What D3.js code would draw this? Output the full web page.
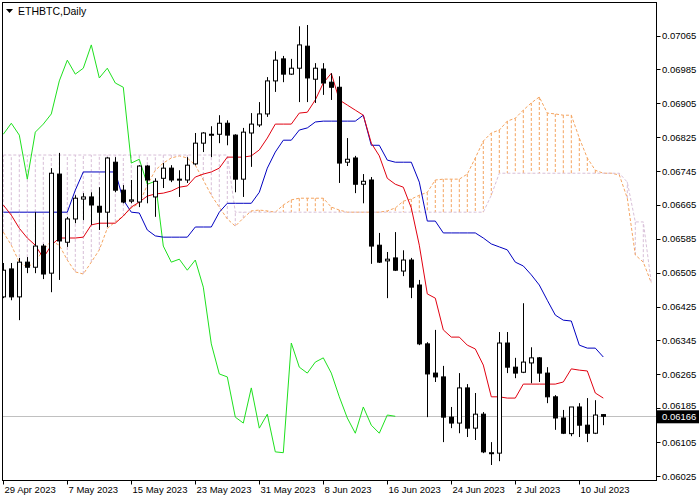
<!DOCTYPE html>
<html>
<head>
<meta charset="utf-8">
<script src="https://cdn.jsdelivr.net/npm/d3@7"></script>
<style>
  body { margin: 0; background: #fff; }
  text { font-family: "Liberation Sans", Arial, sans-serif; font-size: 9.5px; fill: #000; }
</style>
</head>
<body>
<svg id="chart" width="700" height="500"></svg>
<script>
// daily ETHBTC candles, 29 Apr 2023 .. 13 Jul 2023
const opens  = [0.06448,0.06514,0.06448,0.06530,0.06518,0.06568,0.06504,0.06738,0.06577,0.06632,0.06679,0.06684,0.06662,0.06648,0.06766,0.06700,0.06674,0.06672,0.06757,0.06684,0.06728,0.06752,0.06724,0.06724,0.06762,0.06811,0.06830,0.06832,0.06858,0.06830,0.06726,0.06835,0.06854,0.06880,0.06958,0.07010,0.06974,0.06988,0.07040,0.06962,0.06986,0.06955,0.06943,0.06766,0.06776,0.06714,0.06724,0.06570,0.06533,0.06540,0.06509,0.06535,0.06476,0.06337,0.06268,0.06259,0.06164,0.06150,0.06233,0.06138,0.06171,0.06079,0.06079,0.06339,0.06282,0.06270,0.06292,0.06304,0.06268,0.06212,0.06162,0.06125,0.06188,0.06145,0.06126,0.06170];
const highs  = [0.06528,0.06528,0.06540,0.06542,0.06648,0.06573,0.06752,0.06788,0.06637,0.06688,0.06693,0.06695,0.06707,0.06778,0.06778,0.06712,0.06724,0.06759,0.06759,0.06728,0.06764,0.06759,0.06747,0.06778,0.06835,0.06837,0.06851,0.06877,0.06865,0.06832,0.06847,0.06882,0.06908,0.06967,0.07028,0.07017,0.07010,0.07087,0.07090,0.07000,0.07000,0.06976,0.06969,0.06823,0.06781,0.06738,0.06731,0.06599,0.06554,0.06601,0.06558,0.06540,0.06488,0.06341,0.06370,0.06285,0.06188,0.06268,0.06242,0.06221,0.06176,0.06105,0.06365,0.06365,0.06304,0.06433,0.06329,0.06306,0.06282,0.06216,0.06181,0.06188,0.06197,0.06209,0.06204,0.06171];
const lows   = [0.06445,0.06440,0.06393,0.06504,0.06504,0.06490,0.06459,0.06488,0.06566,0.06622,0.06629,0.06618,0.06606,0.06613,0.06695,0.06669,0.06669,0.06660,0.06669,0.06637,0.06705,0.06719,0.06684,0.06717,0.06759,0.06790,0.06778,0.06811,0.06806,0.06695,0.06684,0.06755,0.06849,0.06873,0.06932,0.06955,0.06972,0.06908,0.06908,0.06906,0.06925,0.06913,0.06717,0.06757,0.06693,0.06669,0.06526,0.06528,0.06445,0.06509,0.06497,0.06445,0.06334,0.06164,0.06247,0.06105,0.06138,0.06126,0.06117,0.06110,0.06079,0.06051,0.06060,0.06268,0.06256,0.06268,0.06244,0.06247,0.06197,0.06134,0.06124,0.06119,0.06117,0.06105,0.06124,0.06145];
const closes = [0.06511,0.06448,0.06530,0.06518,0.06568,0.06502,0.06740,0.06580,0.06632,0.06681,0.06684,0.06665,0.06648,0.06776,0.06700,0.06672,0.06677,0.06757,0.06724,0.06721,0.06752,0.06724,0.06726,0.06759,0.06811,0.06835,0.06832,0.06858,0.06830,0.06726,0.06837,0.06856,0.06880,0.06958,0.07007,0.06974,0.06988,0.07043,0.06965,0.06988,0.06953,0.06943,0.06764,0.06773,0.06714,0.06721,0.06568,0.06530,0.06537,0.06511,0.06535,0.06471,0.06337,0.06266,0.06259,0.06164,0.06150,0.06233,0.06138,0.06171,0.06082,0.06080,0.06339,0.06282,0.06268,0.06294,0.06304,0.06268,0.06212,0.06162,0.06126,0.06188,0.06145,0.06126,0.06169,0.06166];

// Ichimoku lines
const tenkan = [0.06665,0.06641,0.06610,0.06587,0.06570,0.06540,0.06570,0.06587,0.06587,0.06587,0.06589,0.06618,0.06622,0.06622,0.06622,0.06639,0.06660,0.06672,0.06686,0.06691,0.06693,0.06698,0.06707,0.06710,0.06731,0.06738,0.06743,0.06752,0.06778,0.06778,0.06778,0.06781,0.06795,0.06823,0.06856,0.06856,0.06856,0.06882,0.06884,0.06913,0.06953,0.06976,0.06913,0.06901,0.06889,0.06877,0.06811,0.06781,0.06728,0.06714,0.06707,0.06658,0.06570,0.06455,0.06445,0.06370,0.06353,0.06353,0.06334,0.06325,0.06287,0.06212,0.06212,0.06209,0.06209,0.06242,0.06242,0.06242,0.06242,0.06242,0.06247,0.06278,0.06275,0.06273,0.06221,0.06209];
const kijun = [0.06648,0.06648,0.06648,0.06648,0.06648,0.06648,0.06648,0.06648,0.06648,0.06700,0.06743,0.06743,0.06743,0.06743,0.06743,0.06677,0.06648,0.06646,0.06606,0.06592,0.06589,0.06589,0.06589,0.06589,0.06613,0.06613,0.06613,0.06648,0.06669,0.06669,0.06669,0.06669,0.06695,0.06752,0.06790,0.06818,0.06818,0.06842,0.06847,0.06861,0.06863,0.06863,0.06863,0.06863,0.06863,0.06877,0.06806,0.06806,0.06771,0.06766,0.06766,0.06766,0.06719,0.06627,0.06627,0.06599,0.06599,0.06599,0.06599,0.06599,0.06587,0.06573,0.06566,0.06559,0.06530,0.06521,0.06500,0.06476,0.06440,0.06405,0.06393,0.06391,0.06334,0.06327,0.06327,0.06306];
// cloud, already shifted 26 days forward (index 0 = 29 Apr)
const spanA = [0.06601,0.06570,0.06530,0.06518,0.06530,0.06559,0.06580,0.06570,0.06535,0.06507,0.06502,0.06530,0.06559,0.06610,0.06625,0.06639,0.06658,0.06669,0.06712,0.06747,0.06764,0.06776,0.06781,0.06776,0.06759,0.06724,0.06688,0.06660,0.06632,0.06615,0.06634,0.06651,0.06653,0.06651,0.06648,0.06665,0.06677,0.06681,0.06681,0.06681,0.06681,0.06660,0.06653,0.06648,0.06648,0.06648,0.06648,0.06648,0.06651,0.06658,0.06674,0.06679,0.06688,0.06695,0.06724,0.06726,0.06726,0.06726,0.06738,0.06776,0.06816,0.06835,0.06842,0.06863,0.06870,0.06889,0.06906,0.06920,0.06882,0.06880,0.06877,0.06877,0.06823,0.06776,0.06747,0.06740,0.06740,0.06736,0.06681,0.06547,0.06530,0.06481];
const spanB = [0.06783,0.06783,0.06783,0.06783,0.06783,0.06783,0.06783,0.06783,0.06783,0.06783,0.06783,0.06783,0.06783,0.06783,0.06783,0.06783,0.06783,0.06783,0.06783,0.06783,0.06783,0.06783,0.06783,0.06783,0.06783,0.06783,0.06783,0.06783,0.06783,0.06648,0.06648,0.06648,0.06648,0.06648,0.06648,0.06648,0.06648,0.06648,0.06648,0.06648,0.06648,0.06648,0.06648,0.06648,0.06648,0.06648,0.06648,0.06648,0.06648,0.06648,0.06648,0.06648,0.06648,0.06648,0.06648,0.06648,0.06648,0.06648,0.06648,0.06648,0.06648,0.06688,0.06740,0.06740,0.06740,0.06740,0.06740,0.06740,0.06740,0.06740,0.06740,0.06740,0.06740,0.06740,0.06740,0.06740,0.06740,0.06740,0.06719,0.06625,0.06625,0.06481];
const CHIKOU_SHIFT = 26;

const priceTicks = [0.07065,0.06985,0.06905,0.06825,0.06745,0.06665,0.06585,0.06505,0.06425,0.06345,0.06265,0.06185,0.06105,0.06025];
const dateLabels = ["29 Apr 2023","7 May 2023","15 May 2023","23 May 2023","31 May 2023","8 Jun 2023","16 Jun 2023","24 Jun 2023","2 Jul 2023","10 Jul 2023"];
const dateIndex  = [0,8,16,24,32,40,48,56,64,72];
const lastPrice = 0.06166;

const L = 2.5, T = 2.5, R = 656.5, B = 480.5;
const svg = d3.select("#chart");

const x = d3.scaleLinear().domain([0, 75]).range([3.3, 603.3]);
const y = d3.scaleLinear().domain([0.06025, 0.07065]).range([476, 35.6]);

svg.append("defs").append("clipPath").attr("id", "plot")
  .append("rect").attr("x", L).attr("y", T).attr("width", R - L).attr("height", B - T);
const g = svg.append("g").attr("clip-path", "url(#plot)");

// cloud hatching
const SANDY = "#f4a460", THISTLE = "#d8bfd8";
g.selectAll(".hatch").data(spanA).join("line")
  .attr("x1", (d, i) => x(i)).attr("x2", (d, i) => x(i))
  .attr("y1", d => y(d)).attr("y2", (d, i) => y(spanB[i]))
  .attr("stroke", (d, i) => d >= spanB[i] ? SANDY : THISTLE)
  .attr("stroke-dasharray", "3,2");

const line = d3.line().x((d, i) => x(i)).y(d => y(d));
g.append("path").datum(spanA).attr("d", line).attr("fill", "none")
  .attr("stroke", SANDY).attr("stroke-dasharray", "3,2");
g.append("path").datum(spanB).attr("d", line).attr("fill", "none")
  .attr("stroke", THISTLE).attr("stroke-dasharray", "3,2");

// last price line
g.append("line").attr("x1", L).attr("x2", R)
  .attr("y1", Math.round(y(lastPrice)) + 0.5).attr("y2", Math.round(y(lastPrice)) + 0.5)
  .attr("stroke", "#c0c0c0");

// chikou: closes plotted 26 bars back
const chikou = closes.slice(CHIKOU_SHIFT);
g.append("path").datum(chikou).attr("d", line).attr("fill", "none").attr("stroke", "#1ee01e");
g.append("path").datum(kijun).attr("d", line).attr("fill", "none").attr("stroke", "#0000c0");
g.append("path").datum(tenkan).attr("d", line).attr("fill", "none").attr("stroke", "#e00010");

// candles
const cx = i => Math.round(x(i)) + 0.5;
g.selectAll(".wick").data(closes).join("line")
  .attr("x1", (d, i) => cx(i)).attr("x2", (d, i) => cx(i))
  .attr("y1", (d, i) => y(highs[i])).attr("y2", (d, i) => y(lows[i]))
  .attr("stroke", "#000");
g.selectAll(".body").data(closes).join("rect")
  .attr("x", (d, i) => cx(i) - 2)
  .attr("width", 4)
  .attr("y", (d, i) => y(Math.max(d, opens[i])))
  .attr("height", (d, i) => Math.max(1, Math.abs(y(d) - y(opens[i]))))
  .attr("fill", (d, i) => d >= opens[i] ? "#fff" : "#000")
  .attr("stroke", "#000");

// frame
svg.append("rect").attr("x", L).attr("y", T).attr("width", R - L).attr("height", B - T)
  .attr("fill", "none").attr("stroke", "#000");

// price axis
const ya = svg.append("g");
ya.selectAll("line").data(priceTicks).join("line")
  .attr("x1", R).attr("x2", R + 4)
  .attr("y1", d => Math.round(y(d)) + 0.5).attr("y2", d => Math.round(y(d)) + 0.5)
  .attr("stroke", "#000");
ya.selectAll("text").data(priceTicks).join("text")
  .attr("x", 662).attr("y", d => y(d) + (Math.abs(y(d) - y(lastPrice)) < 12 ? 1 : 3.5))
  .text(d => d.toFixed(5));

// last-price box drawn over the axis, as the terminal does
svg.append("rect").attr("x", 657).attr("y", y(lastPrice) - 6).attr("width", 42).attr("height", 13).attr("fill", "#000");
svg.append("text").attr("x", 662).attr("y", y(lastPrice) + 3.5).style("fill", "#fff").text(lastPrice.toFixed(5));

// date axis
const xa = svg.append("g");
xa.selectAll("line").data(dateIndex).join("line")
  .attr("x1", d => cx(d)).attr("x2", d => cx(d))
  .attr("y1", B).attr("y2", B + 4).attr("stroke", "#000");
xa.selectAll("text").data(dateLabels).join("text")
  .attr("x", (d, i) => cx(dateIndex[i]) + 1).attr("y", 493)
  .text(d => d);

// title
svg.append("path").attr("d", "M6,9 L13,9 L9.5,13 Z").attr("fill", "#000");
svg.append("text").attr("x", 18).attr("y", 15).style("font-size", "10.5px").text("ETHBTC,Daily");
</script>
</body>
</html>
